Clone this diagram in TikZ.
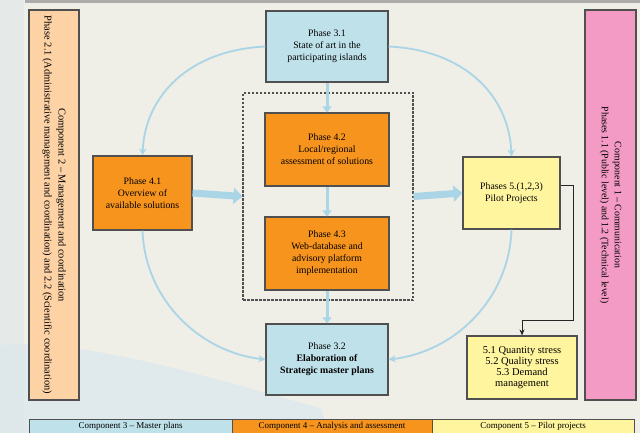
\documentclass[tikz,border=0pt]{standalone}
\usepackage{fontspec}
\setmainfont{Liberation Serif}
\usetikzlibrary{arrows.meta}
\definecolor{bgc}{HTML}{EFEEE7}
\definecolor{seac}{HTML}{DDE8EC}
\definecolor{peach}{HTML}{FDD3A6}
\definecolor{pinkc}{HTML}{F39AC5}
\definecolor{lblue}{HTML}{BFE1EA}
\definecolor{orangec}{HTML}{F7941E}
\definecolor{yellowc}{HTML}{FFF59E}
\definecolor{arrc}{HTML}{AAD5E6}
\definecolor{edgec}{HTML}{505050}
\tikzset{
  box/.style={draw=edgec, line width=1.1pt, align=center, inner sep=2pt,
    font=\fontsize{9.8}{12}\selectfont},
  bluebox/.style={box, fill=lblue},
  orangebox/.style={box, fill=orangec},
  yellowbox/.style={box, fill=yellowc},
  sidebox/.style={draw=edgec, line width=1.1pt},
  sidetext/.style={rotate=-90, align=center},
  bartext/.style={draw=edgec, line width=0.8pt, minimum height=14pt, inner sep=0pt,
    font=\fontsize{9}{10}\selectfont},
  arc/.style={draw=arrc, line width=1.8pt, -{Stealth[length=7pt,width=7pt]}},
  vert/.style={draw=arrc, line width=3pt, -{Triangle[length=6pt,width=9pt]}},
  wide/.style={draw=arrc, line width=7pt, -{Triangle[length=9pt,width=16pt]}},
  blackconn/.style={draw=black!85, line width=0.9pt, -{Stealth[length=6pt,width=5pt]}}
}
\begin{document}
\begin{tikzpicture}[x=1pt,y=-1pt]
\useasboundingbox (0,0) rectangle (640,433);
% background
\fill[bgc] (0,0) rectangle (640,433);
\fill[seac, opacity=0.8] (0,433) -- (0,345) .. controls (90,340) and (200,375) .. (320,408) -- (330,433) -- cycle;
\fill[seac, opacity=0.5] (0,0) rectangle (24,433);
\draw[gray!65, line width=3pt] (25,1.5) -- (640,1.5);

% side components
\node[sidebox, fill=peach, minimum width=50pt, minimum height=390pt] (comp2) at (54,205) {};
\node[sidetext, font=\fontsize{10.4}{14}\selectfont] (comp2t) at (comp2) {Component 2 -- Management and coordination\\Phase 2.1 (Administrative management and coordination) and 2.2 (Scientific coordination)};
\node[sidebox, fill=pinkc, minimum width=51pt, minimum height=390pt] (comp1) at (610.5,205) {};
\node[sidetext, font=\fontsize{9.8}{13}\selectfont] (comp1t) at (comp1) {Component 1 -- Communication\\Phases 1.1 (Public level) and 1.2 (Technical level)};

% dashed frame
\node[draw=edgec, line width=1.1pt, dash pattern=on 2.5pt off 1.5pt, minimum width=170pt, minimum height=207pt] (dbox) at (328,196.5) {};

% phase boxes
\node[bluebox, minimum width=122pt, minimum height=71pt] (p31) at (327,46.5) {Phase 3.1\\State of art in the\\participating islands};
\node[orangebox, minimum width=124pt, minimum height=73pt] (p42) at (327,149.5) {Phase 4.2\\Local/regional\\assessment of solutions};
\node[orangebox, minimum width=124pt, minimum height=73pt] (p43) at (327,253.5) {Phase 4.3\\Web-database and\\advisory platform\\implementation};
\node[bluebox, minimum width=122pt, minimum height=71pt] (p32) at (327,359.5) {Phase 3.2\\\textbf{Elaboration of}\\\textbf{Strategic master plans}};
\node[orangebox, minimum width=99pt, minimum height=74pt] (p41) at (142.5,193) {Phase 4.1\\Overview of\\available solutions};
\node[yellowbox, minimum width=97pt, minimum height=72pt] (p5) at (511.5,193) {Phases 5.(1,2,3)\\Pilot Projects};
\node[yellowbox, minimum width=110pt, minimum height=63pt, font=\fontsize{10.5}{11}\selectfont] (p51) at (522,367.5) {5.1 Quantity stress\\5.2 Quality stress\\5.3 Demand\\management};

% bottom bar
\node[bartext, fill=lblue, minimum width=203pt] (b3) at (130.5,426.5) {Component 3 -- Master plans};
\node[bartext, fill=orangec, minimum width=200pt] (b4) at (332,426.5) {Component 4 -- Analysis and assessment};
\node[bartext, fill=yellowc, minimum width=202pt] (b5) at (533,426.5) {Component 5 -- Pilot projects};

% vertical arrows
\draw[vert] (p31.south) -- (p42.north);
\draw[vert] (p42.south) -- (p43.north);
\draw[vert] (p43.south) -- (p32.north);

% wide arrows
\draw[wide] (p41.east) -- (dbox.west);
\draw[wide] (dbox.east) -- (p5.west);

% circular arcs
\draw[arc] (p31.west) .. controls (190,50) and (145,95) .. (p41.north);
\draw[arc] (p31.east) .. controls (464,50) and (509,95) .. (p5.north);
\draw[arc] (p41.south) .. controls (145,300) and (200,352) .. (p32.west);
\draw[arc] (p5.south) .. controls (509,300) and (454,352) .. (p32.east);

% black connector
\coordinate (bend) at (522,320);
\draw[blackconn] ([yshift=8pt]p5.east) -- ++(13,0) |- (bend) -- (p51.north);
\end{tikzpicture}
\end{document}
